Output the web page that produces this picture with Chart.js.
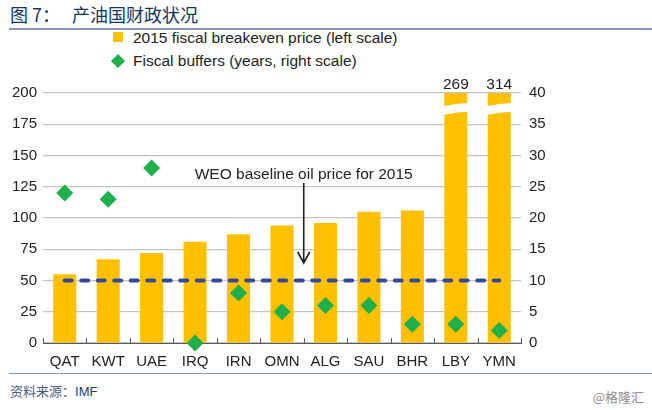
<!DOCTYPE html>
<html>
<head>
<meta charset="utf-8">
<script src="https://cdn.jsdelivr.net/npm/chart.js@4"></script>
<style>
  body { margin: 0; background: #fff; }
  #wrap { position: relative; width: 652px; height: 410px; overflow: hidden; font-family: "Liberation Sans", Arial, sans-serif; }
  #title { position: absolute; left: 10px; top: 1px; font-family: "Noto Sans CJK SC", sans-serif; font-weight: 400; font-size: 18px; color: #17365D; white-space: pre; }
  #titleRule { position: absolute; left: 9px; right: 0; top: 28px; border-top: 2px solid #8497B0; }
  .leg { position: absolute; left: 133px; font-size: 15.5px; color: #222; }
  .sq { position: absolute; left: 113px; top: 32px; width: 10px; height: 10px; background: #FFC000; }
  .dm { position: absolute; left: 113px; top: 56px; width: 10px; height: 10px; background: #1FAF4B; transform: rotate(45deg); }
  #chartBox { position: absolute; left: 0; top: 60px; width: 652px; height: 310px; }
  #footRule { position: absolute; left: 9px; right: 0; top: 373px; border-top: 1.5px solid #8497B0; }
  #source { position: absolute; left: 10px; top: 381px; font-size: 13px; color: #1F3864; font-family: "Liberation Sans", "Noto Sans CJK SC", sans-serif; }
  #source span { font-family: "Noto Sans CJK SC", sans-serif; color: #4A5D7E; }
  #mark { position: absolute; right: 8px; top: 387px; font-size: 13px; color: #8C8C8C; font-family: "Noto Sans CJK SC", sans-serif; }
</style>
</head>
<body>
<div id="wrap">
  <div id="title">图 7：   产油国财政状况</div>
  <div id="titleRule"></div>
  <div class="sq"></div>
  <div class="leg" style="top:29px">2015 fiscal breakeven price (left scale)</div>
  <div class="dm"></div>
  <div class="leg" style="top:52px">Fiscal buffers (years, right scale)</div>
  <div id="chartBox"><canvas id="chart" width="652" height="310"></canvas></div>
  <div id="footRule"></div>
  <div id="source"><span>资料来源：</span>IMF</div>
  <div id="mark">@格隆汇</div>
</div>
<script>
// countries and values
var countries = ['QAT', 'KWT', 'UAE', 'IRQ', 'IRN', 'OMN', 'ALG', 'SAU', 'BHR', 'LBY', 'YMN'];
var breakevenPrice = [55, 67, 72, 81, 87, 94, 96, 105, 106, 269, 314];
var fiscalBuffers = [24, 23, 28, 0, 8, 5, 6, 6, 3, 3, 2];
var baselinePrice = 50;
var leftTicks = [0, 25, 50, 75, 100, 125, 150, 175, 200];
var rightTicks = [0, 5, 10, 15, 20, 25, 30, 35, 40];

var noteText = 'WEO baseline oil price for 2015';
var arrowFrom = 128, arrowTo = 64;

var FONT = "'Liberation Sans', Arial, sans-serif";
var BAR_PCT = 0.53;

// labels over the clipped bars + white break band
var breakPlugin = {
  id: 'breaks',
  afterDatasetsDraw: function(chart) {
    var ctx = chart.ctx;
    var x = chart.scales.x, y = chart.scales.y;
    var w = (x.getPixelForValue(1) - x.getPixelForValue(0)) * BAR_PCT;
    ctx.save();
    breakevenPrice.forEach(function(v, i) {
      if (v <= y.max) return;
      var cx = x.getPixelForValue(i);
      var l = cx - w / 2 - 1, r = cx + w / 2 + 1;
      ctx.fillStyle = '#ffffff';
      ctx.beginPath();
      ctx.moveTo(l, y.getPixelForValue(189.5));
      ctx.quadraticCurveTo(cx, y.getPixelForValue(191.5), r, y.getPixelForValue(192));
      ctx.lineTo(r, y.getPixelForValue(185));
      ctx.quadraticCurveTo(cx, y.getPixelForValue(184.5), l, y.getPixelForValue(182.5));
      ctx.closePath();
      ctx.fill();
      ctx.fillStyle = '#222';
      ctx.font = '15.5px ' + FONT;
      ctx.textAlign = 'center';
      ctx.textBaseline = 'bottom';
      ctx.fillText(String(v), cx, chart.chartArea.top - 1);
    });
    ctx.restore();
  }
};

// annotation arrow and the little inner ticks on the x axis
var notePlugin = {
  id: 'note',
  afterDraw: function(chart) {
    var ctx = chart.ctx;
    var x = chart.scales.x, y = chart.scales.y;
    var ax = (x.getPixelForValue(5) + x.getPixelForValue(6)) / 2;
    var y0 = y.getPixelForValue(arrowFrom), y1 = y.getPixelForValue(arrowTo);
    ctx.save();
    ctx.strokeStyle = '#222';
    ctx.lineWidth = 1.6;
    ctx.beginPath();
    ctx.moveTo(ax, y0);
    ctx.lineTo(ax, y1);
    ctx.moveTo(ax - 6, y1 - 11);
    ctx.lineTo(ax, y1);
    ctx.lineTo(ax + 6, y1 - 11);
    ctx.stroke();
    ctx.fillStyle = '#222';
    ctx.font = '15.5px ' + FONT;
    ctx.textAlign = 'center';
    ctx.textBaseline = 'bottom';
    ctx.fillText(noteText, ax, y0 - 1);

    var a = chart.chartArea;
    var n = countries.length;
    ctx.strokeStyle = '#595959';
    ctx.lineWidth = 1;
    ctx.beginPath();
    for (var i = 0; i <= n; i++) {
      var tx = Math.round(a.left + i * (a.right - a.left) / n) + 0.5;
      ctx.moveTo(tx, a.bottom);
      ctx.lineTo(tx, a.bottom - 5);
    }
    ctx.stroke();
    ctx.restore();
  }
};

var ctx = document.getElementById('chart');
var chart = new Chart(ctx, {
  type: 'bar',
  data: {
    labels: countries,
    datasets: [
      {
        type: 'line',
        label: 'Fiscal buffers (years, right scale)',
        data: fiscalBuffers,
        yAxisID: 'y1',
        showLine: false,
        pointStyle: 'rectRot',
        pointRadius: 8.5,
        pointBackgroundColor: '#1FAF4B',
        pointBorderWidth: 0,
        clip: false,
        order: 0
      },
      {
        type: 'line',
        label: 'WEO baseline',
        data: countries.map(function() { return baselinePrice; }),
        yAxisID: 'y',
        borderColor: '#34499B',
        borderWidth: 4,
        borderDash: [7, 9.5],
        borderCapStyle: 'round',
        pointRadius: 0,
        fill: false,
        order: 1
      },
      {
        label: '2015 fiscal breakeven price (left scale)',
        data: breakevenPrice,
        yAxisID: 'y',
        backgroundColor: '#FFC000',
        barPercentage: BAR_PCT,
        categoryPercentage: 1,
        order: 2
      }
    ]
  },
  options: {
    responsive: false,
    animation: false,
    layout: { autoPadding: false, padding: { top: 33, left: 0, right: 0, bottom: 0 } },
    plugins: { legend: { display: false }, tooltip: { enabled: false } },
    scales: {
      x: {
        offset: true,
        grid: { display: false, drawTicks: false },
        border: { color: '#595959', width: 1 },
        ticks: { color: '#222', font: { family: FONT, size: 15 }, padding: 10 },
        afterFit: function(s) { s.height = 27; }
      },
      y: {
        position: 'left',
        min: 0, max: 200,
        afterBuildTicks: function(s) { s.ticks = leftTicks.map(function(v) { return { value: v }; }); },
        grid: { color: '#C4C4C4', lineWidth: 1.2, drawTicks: false },
        border: { display: false },
        ticks: { color: '#222', font: { family: FONT, size: 15 }, padding: 6 },
        afterFit: function(s) { s.width = 43; }
      },
      y1: {
        position: 'right',
        min: 0, max: 40,
        afterBuildTicks: function(s) { s.ticks = rightTicks.map(function(v) { return { value: v }; }); },
        grid: { display: false, drawTicks: false },
        border: { display: false },
        ticks: { color: '#222', font: { family: FONT, size: 15 }, padding: 8 },
        afterFit: function(s) { s.width = 131; }
      }
    }
  },
  plugins: [breakPlugin, notePlugin]
});
</script>
</body>
</html>
